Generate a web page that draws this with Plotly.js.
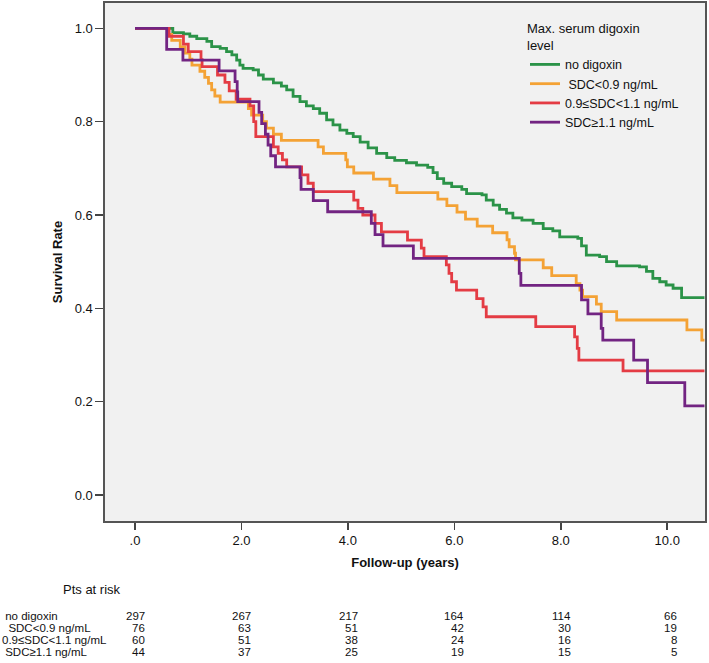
<!DOCTYPE html>
<html>
<head>
<meta charset="utf-8">
<script src="https://cdn.plot.ly/plotly-3.0.1.min.js"></script>
<style>
  html, body { margin: 0; padding: 0; background: #ffffff; }
  #chart { width: 709px; height: 663px; }
</style>
</head>
<body>
<div id="chart"></div>
<script>
// ---------- Data ----------
const groupNames = ["no digoxin", " SDC<0.9 ng/mL", "0.9\u2264SDC<1.1 ng/mL", "SDC\u22651.1 ng/mL"];
const groupColors = ["#2b9348", "#f4a235", "#e43c44", "#722482"];

const noDigTime = [0, 0.71, 0.91, 1.03, 1.16, 1.35, 1.44, 1.60, 1.72, 1.82, 1.91, 1.97, 2.03, 2.22, 2.32, 2.41, 2.60, 2.75, 2.85, 2.97, 3.10, 3.22, 3.35, 3.47, 3.60, 3.72, 3.85, 3.98, 4.10, 4.23, 4.38, 4.54, 4.73, 4.88, 5.10, 5.29, 5.50, 5.60, 5.68, 5.80, 5.95, 6.14, 6.23, 6.52, 6.60, 6.73, 6.85, 6.98, 7.10, 7.27, 7.48, 7.67, 7.85, 7.98, 8.32, 8.39, 8.48, 8.73, 8.86, 9.05, 9.48, 9.61, 9.73, 9.86, 9.98, 10.11, 10.27, 10.7];
const noDigSurv = [1.0, 0.991, 0.988, 0.983, 0.978, 0.972, 0.961, 0.957, 0.950, 0.943, 0.932, 0.921, 0.914, 0.911, 0.900, 0.891, 0.883, 0.876, 0.868, 0.854, 0.843, 0.834, 0.828, 0.818, 0.804, 0.793, 0.782, 0.775, 0.768, 0.756, 0.744, 0.732, 0.723, 0.717, 0.712, 0.707, 0.702, 0.691, 0.678, 0.668, 0.661, 0.655, 0.646, 0.643, 0.632, 0.621, 0.612, 0.604, 0.594, 0.589, 0.582, 0.571, 0.566, 0.553, 0.550, 0.534, 0.514, 0.511, 0.500, 0.491, 0.489, 0.479, 0.464, 0.457, 0.450, 0.443, 0.423, 0.423];

const lowTime = [0, 0.625, 0.69, 0.85, 0.94, 1.03, 1.07, 1.22, 1.31, 1.38, 1.44, 1.50, 1.60, 2.13, 2.19, 2.40, 2.47, 2.60, 2.75, 3.44, 3.54, 3.96, 3.99, 4.11, 4.48, 4.79, 4.92, 5.69, 5.86, 6.05, 6.21, 6.43, 6.72, 6.99, 7.03, 7.13, 7.15, 7.67, 7.83, 8.29, 8.36, 8.41, 8.67, 8.76, 9.05, 10.37, 10.65, 10.7];
const lowSurv = [1.0, 0.987, 0.974, 0.960, 0.947, 0.934, 0.921, 0.908, 0.895, 0.882, 0.868, 0.855, 0.842, 0.828, 0.814, 0.800, 0.786, 0.773, 0.760, 0.746, 0.732, 0.718, 0.703, 0.690, 0.677, 0.663, 0.648, 0.634, 0.620, 0.606, 0.591, 0.576, 0.562, 0.547, 0.532, 0.518, 0.504, 0.487, 0.470, 0.453, 0.439, 0.425, 0.409, 0.393, 0.375, 0.354, 0.332, 0.332];

const midTime = [0, 0.64, 0.91, 1.00, 1.24, 1.26, 1.55, 1.69, 1.77, 1.90, 2.16, 2.23, 2.27, 2.60, 2.69, 2.77, 2.85, 3.13, 3.25, 3.35, 4.11, 4.19, 4.28, 4.51, 4.63, 5.12, 5.38, 5.43, 5.85, 5.90, 5.95, 6.04, 6.42, 6.54, 6.60, 7.53, 8.26, 8.31, 8.34, 9.17, 10.7];
const midSurv = [1.0, 0.983, 0.966, 0.950, 0.933, 0.918, 0.900, 0.884, 0.866, 0.848, 0.834, 0.800, 0.768, 0.746, 0.732, 0.718, 0.703, 0.686, 0.668, 0.650, 0.632, 0.614, 0.600, 0.582, 0.564, 0.546, 0.529, 0.511, 0.493, 0.475, 0.457, 0.439, 0.421, 0.403, 0.382, 0.361, 0.339, 0.314, 0.289, 0.266, 0.266];

const highTime = [0, 0.595, 0.90, 1.58, 1.88, 1.92, 1.93, 2.33, 2.38, 2.45, 2.50, 2.55, 2.64, 3.10, 3.12, 3.35, 3.62, 4.44, 4.51, 4.66, 5.23, 7.22, 7.25, 8.39, 8.51, 8.76, 8.79, 9.37, 9.63, 10.33, 10.7];
const highSurv = [1.0, 0.955, 0.932, 0.909, 0.886, 0.864, 0.843, 0.820, 0.796, 0.773, 0.750, 0.727, 0.703, 0.680, 0.655, 0.631, 0.607, 0.582, 0.558, 0.534, 0.507, 0.475, 0.449, 0.418, 0.388, 0.357, 0.332, 0.289, 0.241, 0.191, 0.191];

const xTickVals = [0, 2, 4, 6, 8, 10];
const xTickText = [".0", "2.0", "4.0", "6.0", "8.0", "10.0"];
const yTickVals = [0, 0.2, 0.4, 0.6, 0.8, 1.0];
const yTickText = ["0.0", "0.2", "0.4", "0.6", "0.8", "1.0"];

const riskTimes = [0, 2, 4, 6, 8, 10];
const riskLabels = [" no digoxin", "  SDC<0.9 ng/mL", "0.9\u2264SDC<1.1 ng/mL", " SDC\u22651.1 ng/mL"];
const riskNoDig = [297, 267, 217, 164, 114, 66];
const riskLow = [76, 63, 51, 42, 30, 19];
const riskMid = [60, 51, 38, 24, 16, 8];
const riskHigh = [44, 37, 25, 19, 15, 5];

// ---------- Build ----------
const FONT = "'Liberation Sans', Arial, Helvetica, sans-serif";
const series = [[noDigTime, noDigSurv], [lowTime, lowSurv], [midTime, midSurv], [highTime, highSurv]];
const traces = series.map((s, i) => ({
  x: s[0], y: s[1], type: "scatter", mode: "lines",
  line: { shape: "hv", color: groupColors[i], width: 2.8 },
  name: groupNames[i], hoverinfo: "skip"
}));

// pixel helpers for the layout (plot area: x 105..705, y 3..521)
const PL = 105, PW = 600, PT = 3, PH = 518;
const px2x = (p) => (p - PL) / PW;
const px2y = (p) => (PT + PH - p) / PH;

const TABLE_FONT = { family: FONT, size: 11.5, color: "#111" };
const annotations = [];
annotations.push({ text: "Pts at risk", xref: "paper", yref: "paper", x: px2x(61), y: px2y(589),
  xanchor: "left", yanchor: "middle", showarrow: false, font: { family: FONT, size: 13, color: "#111" } });
const riskRows = [riskNoDig, riskLow, riskMid, riskHigh];
const rowY = [616, 628, 640, 652];
riskRows.forEach((row, r) => {
  annotations.push({ text: riskLabels[r], xref: "paper", yref: "paper", x: px2x(0), y: px2y(rowY[r]),
    xanchor: "left", yanchor: "middle", showarrow: false, font: TABLE_FONT });
  row.forEach((n, c) => {
    annotations.push({ text: String(n), xref: "x", yref: "paper", x: riskTimes[c], xshift: 12, y: px2y(rowY[r]),
      xanchor: "right", yanchor: "middle", showarrow: false, font: TABLE_FONT });
  });
});

const layout = {
  width: 709, height: 663,
  margin: { l: PL, r: 709 - PL - PW, t: PT, b: 663 - PT - PH, pad: 0 },
  paper_bgcolor: "#ffffff",
  plot_bgcolor: "#f1f1f1",
  font: { family: FONT, size: 13, color: "#111" },
  showlegend: true,
  legend: {
    x: px2x(525), y: px2y(16), xanchor: "left", yanchor: "top",
    bgcolor: "rgba(0,0,0,0)", borderwidth: 0,
    font: { family: FONT, size: 12.5, color: "#111" },
    title: { text: "Max. serum digoxin<br>level", font: { family: FONT, size: 13, color: "#111" } },
    tracegroupgap: 0, itemwidth: 30
  },
  xaxis: {
    range: [-0.564, 10.71], tickmode: "array", tickvals: xTickVals, ticktext: xTickText,
    ticks: "outside", ticklen: 7, tickwidth: 1.5, tickcolor: "#444",
    showline: true, linecolor: "#555", linewidth: 1.6, mirror: true,
    showgrid: false, zeroline: false,
    tickfont: { family: FONT, size: 13, color: "#111" },
    title: { text: "<b>Follow-up (years)</b>", font: { family: FONT, size: 13, color: "#111" }, standoff: 10 }
  },
  yaxis: {
    range: [-0.0557, 1.0543], tickmode: "array", tickvals: yTickVals, ticktext: yTickText,
    ticks: "outside", ticklen: 8, tickwidth: 1.5, tickcolor: "#444",
    showline: true, linecolor: "#555", linewidth: 1.6, mirror: true,
    showgrid: false, zeroline: false,
    tickfont: { family: FONT, size: 13, color: "#111" },
    title: { text: "<b>Survival Rate</b>", font: { family: FONT, size: 13, color: "#111" }, standoff: 9 }
  },
  annotations: annotations
};

Plotly.newPlot("chart", traces, layout, { staticPlot: true, displayModeBar: false });
</script>
</body>
</html>
